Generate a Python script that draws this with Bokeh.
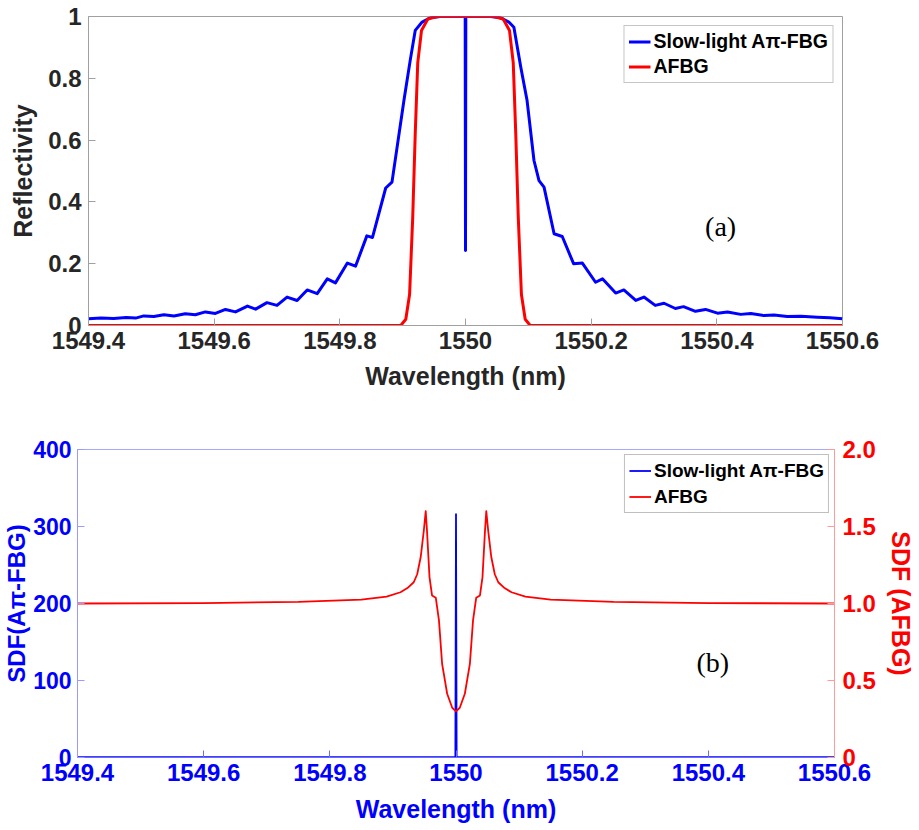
from bokeh.plotting import figure
from bokeh.layouts import column, row
from bokeh.models import (FixedTicker, LinearAxis, Range1d, Label)
from bokeh.embed import file_html
from bokeh.resources import INLINE

# ---------------- data ----------------
x_ticks = [1549.4, 1549.6, 1549.8, 1550.0, 1550.2, 1550.4, 1550.6]
x_tick_labels = ["1549.4", "1549.6", "1549.8", "1550", "1550.2", "1550.4", "1550.6"]
refl_ticks = [0, 0.2, 0.4, 0.6, 0.8, 1.0]
refl_tick_labels = ["0", "0.2", "0.4", "0.6", "0.8", "1"]
sdf_left_ticks = [0, 100, 200, 300, 400]
sdf_left_labels = ["0", "100", "200", "300", "400"]
sdf_right_ticks = [0, 0.5, 1.0, 1.5, 2.0]
sdf_right_labels = ["0", "0.5", "1.0", "1.5", "2.0"]

series_names = ["Slow-light A\u03c0-FBG", "AFBG"]

# (a) reflectivity, slow-light A-pi-FBG
wl_refl_api = [1549.400, 1549.420, 1549.440, 1549.460, 1549.475, 1549.488, 1549.504, 1549.520,
               1549.536, 1549.554, 1549.570, 1549.586, 1549.602, 1549.618, 1549.634, 1549.653,
               1549.666, 1549.684, 1549.700, 1549.716, 1549.732, 1549.748, 1549.764, 1549.780,
               1549.793, 1549.812, 1549.825, 1549.843, 1549.852, 1549.873, 1549.883, 1549.902,
               1549.912, 1549.920, 1549.931, 1549.944, 1549.960, 1549.9995, 1550.000, 1550.0005,
               1550.040, 1550.056, 1550.069, 1550.077, 1550.088, 1550.098, 1550.109, 1550.117,
               1550.125, 1550.141, 1550.154, 1550.172, 1550.186, 1550.207, 1550.218, 1550.239,
               1550.252, 1550.271, 1550.284, 1550.302, 1550.316, 1550.334, 1550.347, 1550.366,
               1550.382, 1550.401, 1550.417, 1550.438, 1550.454, 1550.475, 1550.491, 1550.512,
               1550.534, 1550.560, 1550.580, 1550.600]
refl_api = [0.022, 0.024, 0.023, 0.026, 0.024, 0.031, 0.029, 0.035,
            0.031, 0.038, 0.035, 0.044, 0.039, 0.052, 0.044, 0.063,
            0.053, 0.074, 0.065, 0.092, 0.081, 0.115, 0.103, 0.151,
            0.138, 0.202, 0.192, 0.290, 0.285, 0.445, 0.464, 0.728,
            0.858, 0.955, 0.982, 0.996, 1.000, 1.000, 0.243, 1.000,
            1.000, 0.996, 0.982, 0.965, 0.836, 0.728, 0.534, 0.469,
            0.448, 0.297, 0.288, 0.200, 0.202, 0.140, 0.151, 0.105,
            0.115, 0.081, 0.092, 0.065, 0.072, 0.055, 0.061, 0.046,
            0.052, 0.040, 0.044, 0.036, 0.039, 0.032, 0.034, 0.029,
            0.030, 0.027, 0.025, 0.022]

# (a) reflectivity, AFBG
wl_refl_afbg = [1549.400, 1549.897, 1549.905, 1549.911, 1549.916, 1549.920, 1549.924, 1549.930,
                1549.940, 1549.955, 1550.045, 1550.060, 1550.070, 1550.076, 1550.080, 1550.084,
                1550.089, 1550.095, 1550.103, 1550.600]
refl_afbg = [0.0, 0.0, 0.02, 0.10, 0.35, 0.62, 0.85, 0.955,
             0.992, 1.0, 1.0, 0.992, 0.955, 0.85, 0.62, 0.35,
             0.10, 0.02, 0.0, 0.0]

# (b) SDF, slow-light A-pi-FBG (left axis)
wl_sdf_api = [1549.400, 1549.700, 1549.9990, 1550.000, 1550.0010, 1550.300, 1550.600]
sdf_api = [0.3, 0.3, 0.3, 317.0, 0.3, 0.3, 0.3]

# (b) SDF, AFBG (right axis)
wl_sdf_afbg = [1549.400, 1549.600, 1549.750, 1549.850, 1549.890, 1549.912, 1549.923, 1549.933,
               1549.9385, 1549.944, 1549.949, 1549.952, 1549.954, 1549.958, 1549.962, 1549.968,
               1549.973, 1549.978, 1549.986, 1549.994, 1550.000, 1550.006, 1550.014, 1550.022,
               1550.027, 1550.032, 1550.038, 1550.042, 1550.046, 1550.048, 1550.051, 1550.056,
               1550.0615, 1550.067, 1550.077, 1550.088, 1550.110, 1550.150, 1550.250, 1550.400,
               1550.600]
sdf_afbg = [1.0, 1.003, 1.01, 1.025, 1.045, 1.073, 1.10, 1.138,
            1.19, 1.30, 1.474, 1.60, 1.474, 1.171, 1.052, 1.037,
            0.89, 0.608, 0.414, 0.323, 0.300, 0.323, 0.414, 0.608,
            0.89, 1.037, 1.052, 1.171, 1.474, 1.60, 1.474, 1.30,
            1.19, 1.138, 1.10, 1.073, 1.045, 1.025, 1.01, 1.003,
            1.0]

panel_a_pos = (1550.406, 0.320)
panel_b_pos = (1550.407, 123.0)

# ---------------- styling ----------------
FONT = "Liberation Sans"
TXT = "#262626"
BLUE = "#0000ff"
RED = "#ff0000"


def style_axis(ax, ticks, labels, color, line_color, label_size="24px", title_size="25px"):
    ax.ticker = FixedTicker(ticks=ticks)
    ax.major_label_overrides = {t: l for t, l in zip(ticks, labels)}
    ax.major_label_text_font = FONT
    ax.major_label_text_font_style = "bold"
    ax.major_label_text_font_size = label_size
    ax.major_label_text_color = color
    ax.axis_label_text_font = FONT
    ax.axis_label_text_font_style = "bold"
    ax.axis_label_text_font_size = title_size
    ax.axis_label_text_color = color
    ax.axis_line_color = line_color
    ax.major_tick_line_color = line_color
    ax.major_tick_in = 7
    ax.major_tick_out = 0
    ax.minor_tick_line_color = None


def style_legend(p, margin, label_size):
    lg = p.legend[0]
    lg.location = "top_right"
    lg.margin = margin
    lg.padding = 4
    lg.spacing = 2
    lg.label_text_font = FONT
    lg.label_text_font_style = "bold"
    lg.label_text_font_size = label_size
    lg.label_text_color = "#000000"
    lg.label_standoff = 3
    lg.label_height = 21
    lg.glyph_width = 22
    lg.glyph_height = 21
    lg.border_line_color = "#8c8c8c"
    lg.border_line_width = 1
    lg.background_fill_alpha = 1.0


# ---------------- panel (a) ----------------
p1 = figure(width=919, height=420, x_range=Range1d(1549.4, 1550.6), y_range=Range1d(0, 1),
            output_backend="svg", toolbar_location=None,
            min_border_left=88, min_border_right=77, min_border_top=16, min_border_bottom=95)
p1.xgrid.visible = False
p1.ygrid.visible = False
p1.outline_line_color = "#a0a0a0"
p1.background_fill_color = "white"
p1.border_fill_color = "white"

p1.line(wl_refl_api, refl_api, color=BLUE, line_width=3, legend_label=series_names[0],
        line_join="round")
p1.line(wl_refl_afbg, refl_afbg, color=RED, line_width=3, legend_label=series_names[1],
        line_join="round")

style_axis(p1.xaxis[0], x_ticks, x_tick_labels, TXT, "#a0a0a0")
style_axis(p1.yaxis[0], refl_ticks, refl_tick_labels, TXT, "#a0a0a0")
p1.xaxis[0].axis_label = "Wavelength (nm)"
p1.yaxis[0].axis_label = "Reflectivity"
p1.xaxis[0].major_label_standoff = 6
p1.xaxis[0].axis_label_standoff = 10
p1.yaxis[0].major_label_standoff = 7
p1.yaxis[0].axis_label_standoff = 8

style_legend(p1, 9, "19.5px")
p1.add_layout(Label(x=panel_a_pos[0], y=panel_a_pos[1], text="(a)", text_font="Liberation Serif",
                    text_font_size="28px", text_align="center", text_baseline="middle",
                    text_color="#000000"))

# ---------------- panel (b) ----------------
p2 = figure(width=919, height=410, x_range=Range1d(1549.4, 1550.6), y_range=Range1d(0, 400),
            output_backend="svg", toolbar_location=None,
            min_border_left=77, min_border_right=85, min_border_top=29, min_border_bottom=73)
p2.extra_y_ranges = {"right": Range1d(0, 2.0)}
p2.xgrid.visible = False
p2.ygrid.visible = False
p2.outline_line_color = "#a8a8ff"
p2.background_fill_color = "white"
p2.border_fill_color = "white"

p2.line(wl_sdf_api, sdf_api, color=BLUE, line_width=1.8, legend_label=series_names[0])
p2.line(wl_sdf_afbg, sdf_afbg, color=RED, line_width=1.8, legend_label=series_names[1],
        y_range_name="right", line_join="round")

style_axis(p2.xaxis[0], x_ticks, x_tick_labels, BLUE, "#6a6aff")
style_axis(p2.yaxis[0], sdf_left_ticks, sdf_left_labels, BLUE, "#9a9aff",
           label_size="23px", title_size="24px")
p2.xaxis[0].axis_label = "Wavelength (nm)"
p2.yaxis[0].axis_label = "SDF(A\u03c0-FBG)"
p2.xaxis[0].major_label_standoff = 6
p2.xaxis[0].axis_label_standoff = 11
p2.yaxis[0].major_label_standoff = 6
p2.yaxis[0].axis_label_standoff = 0

rax = LinearAxis(y_range_name="right", axis_label="SDF (AFBG)")
p2.add_layout(rax, "right")
style_axis(rax, sdf_right_ticks, sdf_right_labels, RED, "#ff9a9a")
rax.major_label_standoff = 8
rax.axis_label_standoff = 8

style_legend(p2, 5, "19px")
p2.legend[0].label_height = 23
p2.legend[0].spacing = 3
p2.legend[0].border_line_color = "#808080"
p2.add_layout(Label(x=panel_b_pos[0], y=panel_b_pos[1], text="(b)", text_font="Liberation Serif",
                    text_font_size="28px", text_align="center", text_baseline="middle",
                    text_color="#000000"))

layout = column(row(p1), row(p2), spacing=0)
open("out.html", "w").write(file_html(layout, INLINE))
